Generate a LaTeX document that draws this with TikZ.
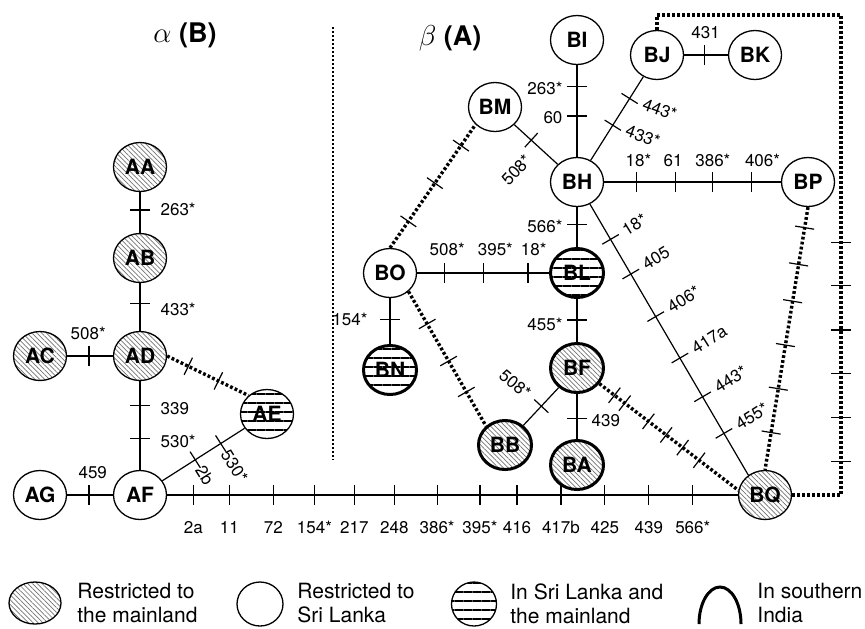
\documentclass[tikz,border=0pt]{standalone}
\usepackage{fontspec}
\setmainfont{TeX Gyre Heros}
\usetikzlibrary{shapes.geometric,patterns.meta,decorations.markings}

\newcommand{\hapfont}{\fontsize{10.5}{12}\selectfont\bfseries}
\newcommand{\labfont}{\fontsize{8.5}{10}\selectfont}
\newcommand{\keyfont}{\fontsize{10.5}{12}\selectfont}
\newcommand{\ttlfont}{\fontsize{13.5}{16}\selectfont}

\tikzset{
  hapl/.style={ellipse, draw, line width=.65pt, minimum width=26.5pt,
    minimum height=24.5pt, inner sep=0pt, font=\hapfont},
  mainl/.style={pattern={Lines[angle=-45,distance=1.7pt,line width=.35pt]},
    pattern color=black!55},
  both/.style={pattern={Lines[angle=0,distance=4.5pt,line width=.7pt]},
    pattern color=black},
  india/.style={line width=1.5pt},
  lnk/.style={line width=.6pt},
  dots/.style={line width=1.7pt, dash pattern=on 1.4pt off 1.1pt},
  divider/.style={line width=.9pt, dash pattern=on .9pt off 1.1pt},
  lab/.style={font=\labfont, inner sep=1pt},
  keytext/.style={font=\keyfont, align=left, inner sep=0pt},
  tk/.style={postaction={decorate,decoration={markings,
    mark=at position #1 with {\draw[solid,line width=.6pt] (0,-4.8pt) -- (0,4.8pt);}}}},
  tkb/.style args={#1/#2}{postaction={decorate,decoration={markings,
    mark=at position #1 with {\draw[solid,line width=.6pt] (0,-4.8pt) -- (0,4.8pt);
      \node[lab,anchor=base] at (0,-19pt) {#2};}}}},
}

\begin{document}
\begin{tikzpicture}[x=.5pt, y=-.5pt]
    \useasboundingbox (0,0) rectangle (865,628);

    \node[font=\ttlfont] (ttlB) at (185,35) {$\alpha$ \textbf{(B)}};
    \node[font=\ttlfont] (ttlA) at (450,38) {$\beta$ \textbf{(A)}};
    \draw[divider] (333,27) -- (333,460);

    % alpha (B)
    \node[hapl, mainl] (AA) at (140,167) {AA};
    \node[hapl, mainl] (AB) at (140,258) {AB};
    \node[hapl, mainl] (AC) at (40,356) {AC};
    \node[hapl, mainl] (AD) at (140,356) {AD};
    \node[hapl, both] (AE) at (267,414) {AE};
    \node[hapl] (AF) at (140,495) {AF};
    \node[hapl] (AG) at (40,495) {AG};

    % beta (A)
    \node[hapl] (BI) at (577,40) {BI};
    \node[hapl] (BJ) at (657,55) {BJ};
    \node[hapl] (BK) at (755,55) {BK};
    \node[hapl] (BM) at (495,107) {BM};
    \node[hapl] (BH) at (577,182) {BH};
    \node[hapl] (BP) at (808,182) {BP};
    \node[hapl] (BO) at (390,273) {BO};
    \node[hapl, both, india] (BL) at (577,273) {BL};
    \node[hapl, both, india] (BN) at (390,370) {BN};
    \node[hapl, mainl, india] (BF) at (577,368) {BF};
    \node[hapl, mainl, india] (BB) at (505,445) {BB};
    \node[hapl, mainl, india] (BA) at (577,465) {BA};
    \node[hapl, mainl] (BQ) at (765,495) {BQ};

    \draw[lnk, tk=.44] (AA) -- node[lab, pos=.44, right=9pt] {263*} (AB);
    \draw[lnk, tk=.42] (AB) -- node[lab, pos=.56, right=9pt] {433*} (AD);
    \draw[lnk, tk=.48] (AC) -- node[lab, pos=.46, above=7pt] {508*} (AD);
    \draw[lnk, tk/.list={.27,.65}] (AD) -- node[lab, pos=.31, right=9pt] {339}
        node[lab, pos=.68, right=9pt] {530*} (AF);
    \draw[dots, tk/.list={.26,.63}] (AD.east) -- (AE.135);
    \draw[lnk, tk/.list={.40,.71}] (AF)
        -- node[lab, pos=.40, rotate=-58, anchor=west, inner xsep=4pt] {2b}
        node[lab, pos=.71, rotate=-58, anchor=west, inner xsep=4pt] {530*} (AE);
    \draw[lnk, tk=.48] (AG) -- node[lab, pos=.56, above=7pt] {459} (AF);
    \draw[lnk, tkb/.list={.046/2a, .109/11, .186/72, .258/154*, .328/217,
        .398/248, .473/386*, .548/395*, .613/416, .690/417b, .767/425,
        .844/439, .921/566*}] (AF) -- (BQ);

    \draw[lnk, tk/.list={.231,.554}] (BI) -- node[lab, pos=.25, left=6pt] {263*}
        node[lab, pos=.575, left=6pt] {60} (BH);
    \draw[lnk, tk=.39] (BM)
        -- node[lab, pos=.55, rotate=47, anchor=east, inner xsep=7pt] {508*} (BH);
    \draw[lnk, tk/.list={.42,.74}] (BH)
        -- node[lab, pos=.42, rotate=-20, anchor=west, inner xsep=7pt] {433*}
        node[lab, pos=.74, rotate=-20, anchor=west, inner xsep=7pt] {443*} (BJ);
    \draw[lnk, tk=.46] (BJ) -- node[lab, pos=.49, above=7pt] {431} (BK);
    \draw[lnk, tk/.list={.183,.402,.615,.834}] (BH)
        -- node[lab, pos=.194, above=6.5pt] {18*} node[lab, pos=.39, above=6.5pt] {61}
        node[lab, pos=.615, above=6.5pt] {386*} node[lab, pos=.896, above=6.5pt] {406*} (BP);
    \draw[lnk, tk=.44] (BH) -- node[lab, pos=.49, left=6pt] {566*} (BL);
    \draw[lnk, tk/.list={.130,.258,.415,.568,.711,.846}] (BH)
        -- node[lab, pos=.130, rotate=32, anchor=west, inner xsep=7.5pt] {18*}
        node[lab, pos=.258, rotate=32, anchor=west, inner xsep=7.5pt] {405}
        node[lab, pos=.415, rotate=32, anchor=west, inner xsep=7.5pt] {406*}
        node[lab, pos=.568, rotate=32, anchor=west, inner xsep=7.5pt] {417a}
        node[lab, pos=.711, rotate=32, anchor=west, inner xsep=7.5pt] {443*}
        node[lab, pos=.846, rotate=32, anchor=west, inner xsep=7.5pt] {455*} (BQ.130);
    \draw[lnk, tk/.list={.205,.504,.840}] (BO) -- node[lab, pos=.228, above=7.5pt] {508*}
        node[lab, pos=.593, above=7.5pt] {395*} node[lab, pos=.884, above=7.5pt] {18*} (BL);
    \draw[lnk, tk=.47] (BO) -- node[lab, pos=.47, left=10pt] {154*} (BN);
    \draw[dots, tk/.list={.215,.525,.83}] (BO.north) -- (BM.222);
    \draw[dots, tk/.list={.242,.518,.748}] (BO.-45) -- (BB.135);
    \draw[lnk, tk=.49] (BL) -- node[lab, pos=.58, left=6pt] {455*} (BF);
    \draw[lnk, tk=.55] (BF) -- node[lab, pos=.6, right=6pt] {439} (BA);
    \draw[lnk, tk=.51] (BB)
        -- node[lab, pos=.51, rotate=-40, anchor=east, inner xsep=8pt] {508*} (BF);
    \draw[dots, tk/.list={.109,.183,.354,.482,.601,.720}] (BF.-35) -- (BQ.170);
    \draw[dots, tk/.list={.078,.218,.358,.525,.691,.858}] (BP.south) -- (BQ.north);
    \coordinate (rim) at (841,15);
    \draw[dots, tk/.list={.586,.645,.706,.766,.826,.887}] (BJ.north) |- (rim) |- (BQ.east);

    % key
    \node[ellipse, draw, line width=.65pt, mainl, minimum width=26pt,
        minimum height=21pt, inner sep=0pt] (key1) at (35,603) {};
    \node[keytext, anchor=north west] (txt1) at (77,583) {Restricted to\\the mainland};
    \node[ellipse, draw, line width=.65pt, minimum width=23pt,
        minimum height=22pt, inner sep=0pt] (key2) at (260,604) {};
    \node[keytext, anchor=north west] (txt2) at (297,583) {Restricted to\\Sri Lanka};
    \node[ellipse, draw, line width=.65pt, both, minimum width=22.5pt,
        minimum height=22pt, inner sep=0pt] (key3) at (474,604) {};
    \node[keytext, anchor=north west] (txt3) at (510,583) {In Sri Lanka and\\the mainland};
    \draw[india] (741,624) arc[start angle=0, end angle=-180, x radius=21, y radius=37];
    \node[keytext, anchor=north west] (txt4) at (757,583) {In southern\\India};
\end{tikzpicture}
\end{document}
